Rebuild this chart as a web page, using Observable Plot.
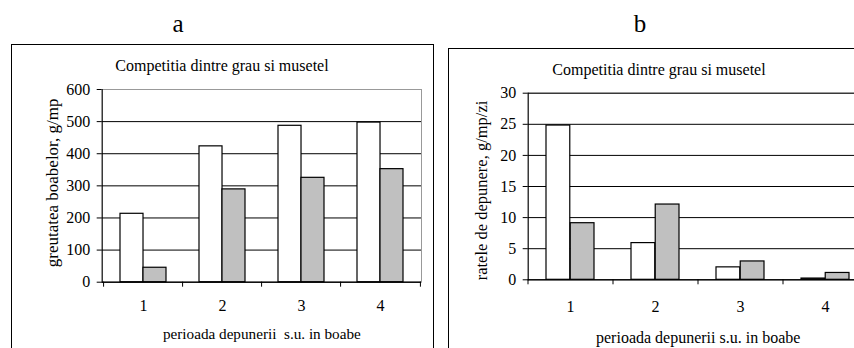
<!DOCTYPE html>
<html>
<head>
<meta charset="utf-8">
<script src="https://cdn.jsdelivr.net/npm/d3@7"></script>
<script src="https://cdn.jsdelivr.net/npm/@observablehq/plot@0.6"></script>
<style>
  html, body { margin: 0; padding: 0; background: #fff; }
  #wrap { position: relative; width: 854px; height: 348px; overflow: hidden; background: #fff;
          font-family: "Liberation Serif", "Times New Roman", serif; color: #000; }
  .abs { position: absolute; }
  .panel { font-size: 25px; line-height: 25px; width: 40px; text-align: center; }
  .title { font-size: 16px; line-height: 16px; width: 422px; text-align: center; white-space: pre; }
  .box { border: 1px solid #000; box-sizing: border-box; }
  #pa svg, #pb svg { max-width: none !important; }
</style>
</head>
<body>
<div id="wrap">
  <div class="abs panel" style="left:158px;top:11px">a</div>
  <div class="abs panel" style="left:620px;top:11px">b</div>
  <div class="abs box" style="left:11px;top:44px;width:423px;height:330px"></div>
  <div class="abs box" style="left:448px;top:48px;width:440px;height:330px"></div>
  <div id="pa" class="abs" style="left:11px;top:44px;width:422px"></div>
  <div id="pb" class="abs" style="left:448px;top:48px;width:430px"></div>
  <div class="abs title" style="left:11px;top:58px">Competitia dintre grau si musetel</div>
  <div class="abs title" style="left:448px;top:62px">Competitia dintre grau si musetel</div>
</div>
<script>
// ---- data ----
const categories = ["1", "2", "3", "4"];
const greutateGrau = [213, 423, 487, 497];
const greutateMusetel = [45, 289, 325, 352];
const rataGrau = [24.8, 5.9, 2.0, 0.2];
const rataMusetel = [9.1, 12.1, 2.95, 1.1];
const ticksA = [0, 100, 200, 300, 400, 500, 600];
const ticksB = [0, 5, 10, 15, 20, 25, 30];
const yLabelA = "greutatea boabelor, g/mp";
const yLabelB = "ratele de depunere, g/mp/zi";
const xLabelA = "perioada depunerii\u00a0 s.u. in boabe";
const xLabelB = "perioada depunerii s.u. in boabe";

const tableA = categories.map((c, i) => ({cat: c, grau: greutateGrau[i], musetel: greutateMusetel[i]}));
const tableB = categories.map((c, i) => ({cat: c, grau: rataGrau[i], musetel: rataMusetel[i]}));

function chart({table, yDomain, yTicks, gridTicks, yLabel, xLabel, width, height, ml, mr, mt, mb, pad,
                yLabelDx, yLabelDy, yLabelSize, xTickPad, xLabelOffset, xLabelSize, topStroke}) {
  const inner = width - ml - mr;
  const step = inner / categories.length;
  const bw = step * (1 - pad);
  return Plot.plot({
    width, height,
    marginLeft: ml, marginRight: mr, marginTop: mt, marginBottom: mb,
    style: {fontFamily: "Liberation Serif", fontSize: "16px", background: "transparent", color: "#000", overflow: "visible", maxWidth: "none"},
    x: {domain: categories, paddingInner: pad, paddingOuter: pad / 2},
    y: {domain: yDomain},
    marks: [
      Plot.frame({stroke: topStroke}),
      Plot.gridY(gridTicks, {stroke: "#000", strokeOpacity: 1, strokeWidth: 1}),
      Plot.barY(table, {x: "cat", y: "grau", fill: "#fff", stroke: "#000", strokeWidth: 1.2, insetRight: bw / 2}),
      Plot.barY(table, {x: "cat", y: "musetel", fill: "#c0c0c0", stroke: "#000", strokeWidth: 1.2, insetLeft: bw / 2}),
      Plot.ruleY([0], {stroke: "#000"}),
      Plot.frame({anchor: "left", stroke: "#000"}),
      Plot.axisY(yTicks, {tickSize: 5, tickPadding: 7, label: null}),
      Plot.text([yLabel], {text: d => d, frameAnchor: "left", rotate: -90, lineAnchor: "middle", textAnchor: "middle",
                           dx: yLabelDx, dy: yLabelDy, fontSize: yLabelSize}),
      Plot.axisX(categories, {tickSize: 0, tickPadding: xTickPad, label: null}),
      Plot.axisX([], {tickSize: 0, fontSize: xLabelSize, label: xLabel, labelAnchor: "center", labelArrow: "none", labelOffset: xLabelOffset}),
      Plot.axisX(categories, {tickSize: 5, dx: -step / 2, tickFormat: () => "", label: null}),
      Plot.axisX(categories.slice(-1), {tickSize: 5, dx: step / 2, tickFormat: () => "", label: null})
    ]
  });
}

document.getElementById("pa").append(chart({
  table: tableA, yDomain: [0, 600], yTicks: ticksA, gridTicks: ticksA.slice(0, -1),
  yLabel: yLabelA, xLabel: xLabelA,
  width: 422, height: 304, ml: 90.7, mr: 12, mt: 45, mb: 66.3, pad: 0.424,
  yLabelDx: -49.7, yLabelDy: -3, yLabelSize: 17,
  xTickPad: 17, xLabelOffset: 57, xLabelSize: 15.2, topStroke: "#999"
}));

document.getElementById("pb").append(chart({
  table: tableB, yDomain: [0, 30], yTicks: ticksB, gridTicks: ticksB,
  yLabel: yLabelB, xLabel: xLabelB,
  width: 430, height: 300, ml: 79.7, mr: 10.3, mt: 44.7, mb: 68.7, pad: 0.43,
  yLabelDx: -46, yLabelDy: 4, yLabelSize: 16.5,
  xTickPad: 21, xLabelOffset: 63, xLabelSize: 16, topStroke: "#999"
}));
</script>
</body>
</html>
